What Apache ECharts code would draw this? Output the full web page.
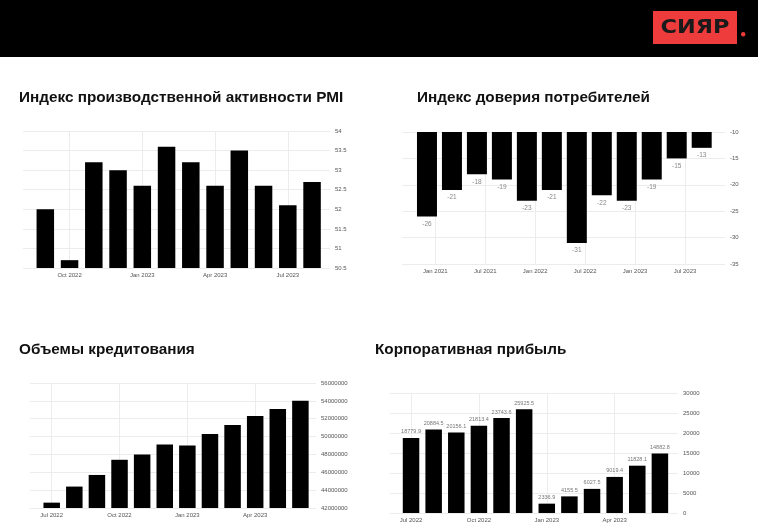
<!DOCTYPE html>
<html><head><meta charset="utf-8">
<script src="https://cdn.jsdelivr.net/npm/echarts@6/dist/echarts.min.js"></script>
<style>html,body{margin:0;padding:0;background:#fff}#c{width:758px;height:529px}</style>
</head><body><div id="c"></div>
<script>
// ---- PMI ----
const pmiDates = ['2022-09','2022-10','2022-11','2022-12','2023-01','2023-02','2023-03','2023-04','2023-05','2023-06','2023-07','2023-08'];
const pmiValues = [52.0, 50.7, 53.2, 53.0, 52.6, 53.6, 53.2, 52.6, 53.5, 52.6, 52.1, 52.7];
const pmiTickDates = ['2022-10','2023-01','2023-04','2023-07'];
const pmiTickLabels = ['Oct 2022','Jan 2023','Apr 2023','Jul 2023'];
// ---- Consumer confidence ----
const ccDates = ['2020-12','2021-03','2021-06','2021-09','2021-12','2022-03','2022-06','2022-09','2022-12','2023-03','2023-06','2023-09'];
const ccValues = [-26, -21, -18, -19, -23, -21, -31, -22, -23, -19, -15, -13];
const ccTickDates = ['2021-01','2021-07','2022-01','2022-07','2023-01','2023-07'];
const ccTickLabels = ['Jan 2021','Jul 2021','Jan 2022','Jul 2022','Jan 2023','Jul 2023'];
// ---- Loans ----
const loanDates = ['2022-07','2022-08','2022-09','2022-10','2022-11','2022-12','2023-01','2023-02','2023-03','2023-04','2023-05','2023-06'];
const loanValues = [42600000, 44400000, 45700000, 47400000, 48000000, 49100000, 49000000, 50300000, 51300000, 52300000, 53100000, 54000000];
const loanTickDates = ['2022-07','2022-10','2023-01','2023-04'];
const loanTickLabels = ['Jul 2022','Oct 2022','Jan 2023','Apr 2023'];
// ---- Corporate profit ----
const profitDates = ['2022-07','2022-08','2022-09','2022-10','2022-11','2022-12','2023-01','2023-02','2023-03','2023-04','2023-05','2023-06'];
const profitValues = [18779.9, 20884.5, 20156.1, 21813.4, 23743.6, 25925.5, 2336.9, 4155.5, 6027.5, 9019.4, 11828.1, 14882.8];
const profitTickDates = ['2022-07','2022-10','2023-01','2023-04'];
const profitTickLabels = ['Jul 2022','Oct 2022','Jan 2023','Apr 2023'];

const titles = ['Индекс производственной активности PMI','Индекс доверия потребителей','Объемы кредитования','Корпоративная прибыль'];
const logoText = 'СИЯР';

function mIdx(d, origin){
  const [y,m] = d.split('-').map(Number);
  const [oy,om] = origin.split('-').map(Number);
  return (y-oy)*12 + (m-om);
}

const chart = echarts.init(document.getElementById('c'), null, {renderer:'canvas'});
const gridColor = '#ececec';
const axisTxt = '#555';
const font = 'Liberation Sans';

function xAxis(gi, origin, tickDates, tickLabels, min, max){
  const vals = tickDates.map(d=>mIdx(d,origin));
  return {
    type:'value', gridIndex:gi, min:min, max:max,
    axisLine:{show:false},
    axisTick:{show:false, customValues: vals},
    axisLabel:{customValues: vals, fontSize:6, color:axisTxt, fontFamily:font, margin:4,
      formatter: v => tickLabels[vals.indexOf(Math.round(v))] || ''},
    splitLine:{show:true, lineStyle:{color:gridColor, width:1}}
  };
}
function yAxis(gi, min, max, interval){
  return {
    type:'value', gridIndex:gi, position:'right', min:min, max:max, interval:interval,
    axisLine:{show:false}, axisTick:{show:false},
    axisLabel:{fontSize:6, color:axisTxt, fontFamily:font, margin:5, formatter: v => String(v)},
    splitLine:{show:true, lineStyle:{color:gridColor, width:1}}
  };
}
function barData(dates, origin, values){
  return dates.map((d,i)=>[mIdx(d,origin), values[i]]);
}

const titleStyle = {fontFamily:font, fontSize:15.3, fontWeight:'bold', color:'#111'};
const option = {
  animation:false,
  backgroundColor:'#fff',
  title: [
    {text:titles[0], left:19, top:90, padding:0, textStyle:titleStyle},
    {text:titles[1], left:417, top:90, padding:0, textStyle:titleStyle},
    {text:titles[2], left:19, top:342, padding:0, textStyle:titleStyle},
    {text:titles[3], left:375, top:342, padding:0, textStyle:titleStyle}
  ],
  graphic:[
    {type:'rect', left:0, top:0, z:100, shape:{width:758, height:57}, style:{fill:'#000'}},
    {type:'rect', left:653, top:11, z:101, shape:{width:84, height:33}, style:{fill:'#ee3b3b'}},
    {type:'text', x:695, y:28, z:102, scaleX:1.12, originX:0, originY:0,
     style:{text:logoText, fill:'#1a1a1a', font:'bold 20px "DejaVu Sans"', align:'center', verticalAlign:'middle'}},
    {type:'circle', left:741, top:32, z:101, shape:{r:2.2}, style:{fill:'#ee3b3b'}}
  ],
  grid:[
    {left:23, right:428, top:131, bottom:261},
    {left:402, right:33, top:132, bottom:265},
    {left:30, right:442, top:383, bottom:21},
    {left:390, right:80, top:393, bottom:16}
  ],
  xAxis:[
    xAxis(0,'2022-09',pmiTickDates,pmiTickLabels,-0.92,11.74),
    xAxis(1,'2021-01',ccTickDates,ccTickLabels,-4,34.8),
    xAxis(2,'2022-07',loanTickDates,loanTickLabels,-0.96,11.69),
    xAxis(3,'2022-07',profitTickDates,profitTickLabels,-0.93,11.8)
  ],
  yAxis:[
    yAxis(0,50.5,54,0.5),
    yAxis(1,-35,-10,5),
    yAxis(2,42000000,56000000,2000000),
    yAxis(3,0,30000,5000)
  ],
  series:[
    {type:'bar', xAxisIndex:0, yAxisIndex:0, barWidth:17.5, clip:true,
     itemStyle:{color:'#000'}, data:barData(pmiDates,'2022-09',pmiValues)},
    {type:'bar', xAxisIndex:1, yAxisIndex:1, barWidth:20, clip:true,
     itemStyle:{color:'#000'},
     label:{show:true, position:'bottom', distance:4, fontSize:6.5, color:'#888', fontFamily:font,
       formatter:p=>p.value[1]},
     data:barData(ccDates,'2021-01',ccValues)},
    {type:'bar', xAxisIndex:2, yAxisIndex:2, barWidth:16.5, clip:true,
     itemStyle:{color:'#000'}, data:barData(loanDates,'2022-07',loanValues)},
    {type:'bar', xAxisIndex:3, yAxisIndex:3, barWidth:16.5, clip:true,
     itemStyle:{color:'#000'},
     label:{show:true, position:'top', distance:3, fontSize:5.5, color:'#777', fontFamily:font,
       formatter:p=>p.value[1]},
     data:barData(profitDates,'2022-07',profitValues)}
  ]
};
chart.setOption(option);
</script></body></html>
